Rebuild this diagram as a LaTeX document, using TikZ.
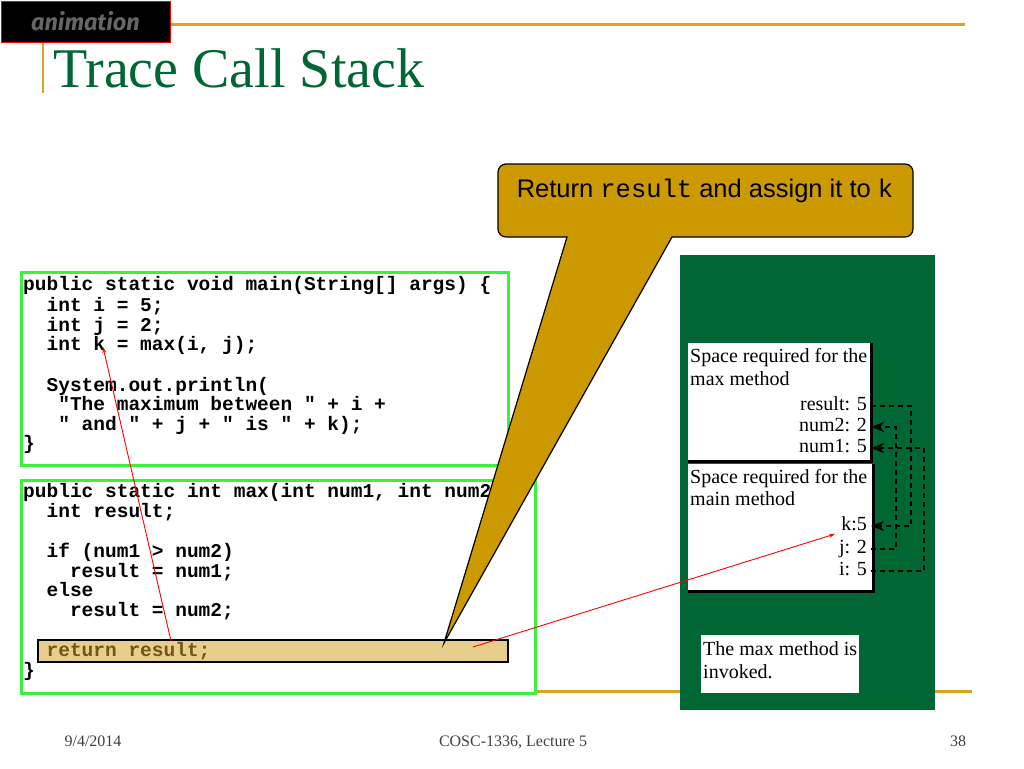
\documentclass[tikz,border=0pt]{standalone}
\usepackage{fontspec}
\setmainfont{Liberation Serif}
\setmonofont{Liberation Mono}
\newfontfamily\arialf{Liberation Sans}
\newfontfamily\firaf{Fira Sans}
\usetikzlibrary{arrows.meta}
\definecolor{gold}{RGB}{218,165,32}
\definecolor{callgold}{RGB}{204,153,0}
\definecolor{panelgreen}{RGB}{0,102,51}
\definecolor{boxgreen}{RGB}{60,240,60}
\definecolor{hilite}{RGB}{232,206,140}
\definecolor{retbrown}{RGB}{115,85,20}
\begin{document}
\begin{tikzpicture}[x=1pt,y=-1pt,
  codeline/.style={anchor=base west,inner sep=0pt,font=\fontsize{19.5}{20}\ttfamily\bfseries},
  stacktxt/.style={anchor=base west,inner sep=0pt,font=\fontsize{20}{22}\selectfont},
  varlabel/.style={anchor=base east,inner sep=2pt,font=\fontsize{20}{22}\selectfont},
  footer/.style={anchor=base,inner sep=0pt,font=\fontsize{16}{18}\selectfont,text=black!75},
  dashline/.style={dash pattern=on 5pt off 4pt,line width=1.8pt,black},
  dasharrow/.style={dashline,-{Stealth[length=13pt,width=10pt,inset=4pt]}},
  redarrow/.style={red,line width=0.9pt,-{Stealth[length=6pt,width=4pt]}},
  codebox/.style={draw=boxgreen,line width=3pt,fill=white}]
\useasboundingbox (0,0) rectangle (1024,768);
\fill[white] (0,0) rectangle (1024,768);
% decorative lines
\draw[gold,line width=3pt] (170,25) -- (965,25);
\draw[gold,line width=2.5pt] (43,42) -- (43,93);
\draw[gold,line width=3pt] (535,691) -- (972,691);
% animation tag
\node[draw=red,line width=1.5pt,fill=black,minimum width=169pt,minimum height=41pt,anchor=north west,inner sep=0pt] (tag) at (0.75,0.75) {};
\node[anchor=base west,inner sep=0pt,text=black!60!white,font=\fontsize{23.5}{24}\firaf\bfseries\itshape] (anim) at (31,31) {animation};
% title
\node[anchor=base west,inner sep=0pt,text=panelgreen,font=\fontsize{56}{60}\selectfont] (title) at (53,87) {Trace Call Stack};
% footer
\node[footer] (date) at (93,746) {9/4/2014};
\node[footer] (course) at (513,746) {COSC-1336, Lecture 5};
\node[footer] (page) at (958,746) {38};
% green panel
\fill[panelgreen] (680,255) rectangle (935,710);
% max frame
\fill[white] (688,343) rectangle (870,460);
\draw[black,line width=3pt] (871,343) -- (871,461) -- (688,461);
\fill[white] (688,464) rectangle (872,590);
\draw[black,line width=3pt] (873,464) -- (873,591) -- (688,591);
\node[stacktxt] (maxa) at (690,362) {Space required for the};
\node[stacktxt] (maxb) at (690,385) {max method};
\node[varlabel] (vresult) at (869,410) {result: 5};
\node[varlabel] (vnumtwo) at (869,431) {num2: 2};
\node[varlabel] (vnumone) at (869,452) {num1: 5};
\node[stacktxt] (maina) at (690,483) {Space required for the};
\node[stacktxt] (mainb) at (690,505) {main method};
\node[varlabel] (vk) at (869,530) {k:5};
\node[varlabel] (vj) at (869,553) {j: 2};
\node[varlabel] (vi) at (869,575) {i: 5};
% invoked note
\fill[white] (701,635) rectangle (859,693);
\node[stacktxt] (inva) at (703,655) {The max method is};
\node[stacktxt] (invb) at (703,678) {invoked.};
% dashed connectors
\draw[dasharrow] ([xshift=2pt,yshift=4pt]vresult.base east) -- ++(40,0) |- ([xshift=2pt,yshift=4pt]vk.base east);
\draw[dasharrow] ([xshift=2pt,yshift=4pt]vj.base east) -- ++(25,0) |- ([xshift=2pt,yshift=4pt]vnumtwo.base east);
\draw[dasharrow] ([xshift=2pt,yshift=4pt]vi.base east) -- ++(53,0) |- ([xshift=2pt,yshift=4pt]vnumone.base east);
% code box 1
\draw[codebox] (21,272) rectangle (508,465);
\node[codeline] (ma) at (23,290) {public static void main(String[] args) \{};
\node[codeline] (mb) at (46.4,311) {int i = 5;};
\node[codeline] (mc) at (46.4,331) {int j = 2;};
\node[codeline] (md) at (46.4,350) {int k = max(i, j);};
\node[codeline] (me) at (46.4,391) {System.out.println(};
\node[codeline] (mf) at (58.1,410) {"The maximum between " + i +};
\node[codeline] (mg) at (58.1,430) {" and " + j + " is " + k);};
\node[codeline] (mh) at (23,449) {\}};
% code box 2
\draw[codebox] (21,480) rectangle (535,693);
\node[codeline] (xa) at (23,497) {public static int max(int num1, int num2) \{};
\node[codeline] (xb) at (46.4,517) {int result;};
\node[codeline] (xc) at (46.4,557) {if (num1 > num2)};
\node[codeline] (xd) at (69.8,577) {result = num1;};
\node[codeline] (xe) at (46.4,596) {else};
\node[codeline] (xf) at (69.8,616) {result = num2;};
\draw[black,fill=hilite,line width=1.2pt] (38,640) rectangle (508,662);
\node[codeline,text=retbrown] (xg) at (46.4,656) {return result;};
\node[codeline] (xh) at (23,676) {\}};
% red arrows
\coordinate (retres) at (171,641);
\coordinate (kvar) at (103,347);
\coordinate (retval) at (473,647);
\coordinate (kslot) at (835,534);
\draw[redarrow] (retres) -- (kvar);
\draw[redarrow] (retval) -- (kslot);
% callout
\draw[fill=callgold,line width=1.2pt] (700,164) [rounded corners=8pt] -- (498,164) -- (498,237) [sharp corners] -- (567,237) -- (444,643) -- (672,237) [rounded corners=8pt] -- (913,237) -- (913,164) -- cycle;
\node[anchor=base,inner sep=0pt,font=\fontsize{25.5}{27}\arialf] (callout) at (705,197) {Return {\ttfamily result} and assign it to {\ttfamily k}};
\end{tikzpicture}
\end{document}
